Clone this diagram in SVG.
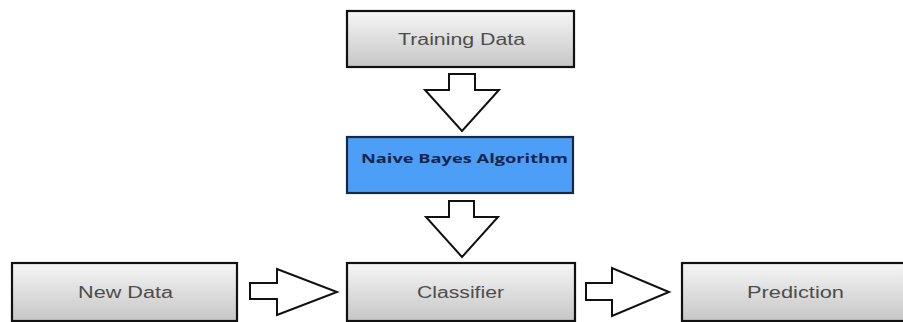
<svg xmlns="http://www.w3.org/2000/svg" width="903" height="322" viewBox="0 0 903 322">
<defs>
<linearGradient id="g" x1="0" y1="0" x2="0" y2="1">
<stop offset="0" stop-color="#f6f6f6"/>
<stop offset="1" stop-color="#c6c6c6"/>
</linearGradient>
<style>
.box{fill:url(#g);stroke:#111;stroke-width:2.2}
.blue{fill:#4d9ef6;stroke:#1a2740;stroke-width:2.2}
.lbl{font-family:"Liberation Sans",Arial,sans-serif;font-size:16px;fill:#4d4d4d;text-anchor:start}
.blbl{font-family:"Open Sans","Liberation Sans",sans-serif;font-size:12.5px;font-weight:bold;fill:#14264d}
.arr{fill:#fff;stroke:#111;stroke-width:2;stroke-linejoin:miter}
</style>
</defs>
<rect width="903" height="322" fill="#fff"/>
<g id="training">
<rect class="box" x="347" y="11" width="227" height="56"/>
<text class="lbl" x="398" y="45" textLength="127" lengthAdjust="spacingAndGlyphs">Training Data</text>
</g>
<g id="naive-bayes">
<rect class="blue" x="347" y="137" width="226" height="56"/>
<text class="blbl" x="361" y="163" textLength="207" lengthAdjust="spacingAndGlyphs">Naive Bayes Algorithm</text>
</g>
<g id="new-data">
<rect class="box" x="12" y="263" width="225" height="58"/>
<text class="lbl" x="78" y="298" textLength="95" lengthAdjust="spacingAndGlyphs">New Data</text>
</g>
<g id="classifier">
<rect class="box" x="347" y="263" width="228" height="58"/>
<text class="lbl" x="417" y="298" textLength="87" lengthAdjust="spacingAndGlyphs">Classifier</text>
</g>
<g id="prediction">
<rect class="box" x="682" y="263" width="230" height="58"/>
<text class="lbl" x="747" y="298" textLength="97" lengthAdjust="spacingAndGlyphs">Prediction</text>
</g>
<g id="connectors">
<polygon class="arr" points="449,74 475,74 475,90 499,90 462,131 425,90 449,90"/>
<polygon class="arr" points="449,201 474,201 474,217 498,217 462,257 426,217 449,217"/>
<polygon class="arr" points="250,283 277,283 277,269 337,292 277,315 277,299 250,299"/>
<polygon class="arr" points="586,283 612,283 612,268 669,292 612,316 612,300 586,300"/>
</g>
</svg>
